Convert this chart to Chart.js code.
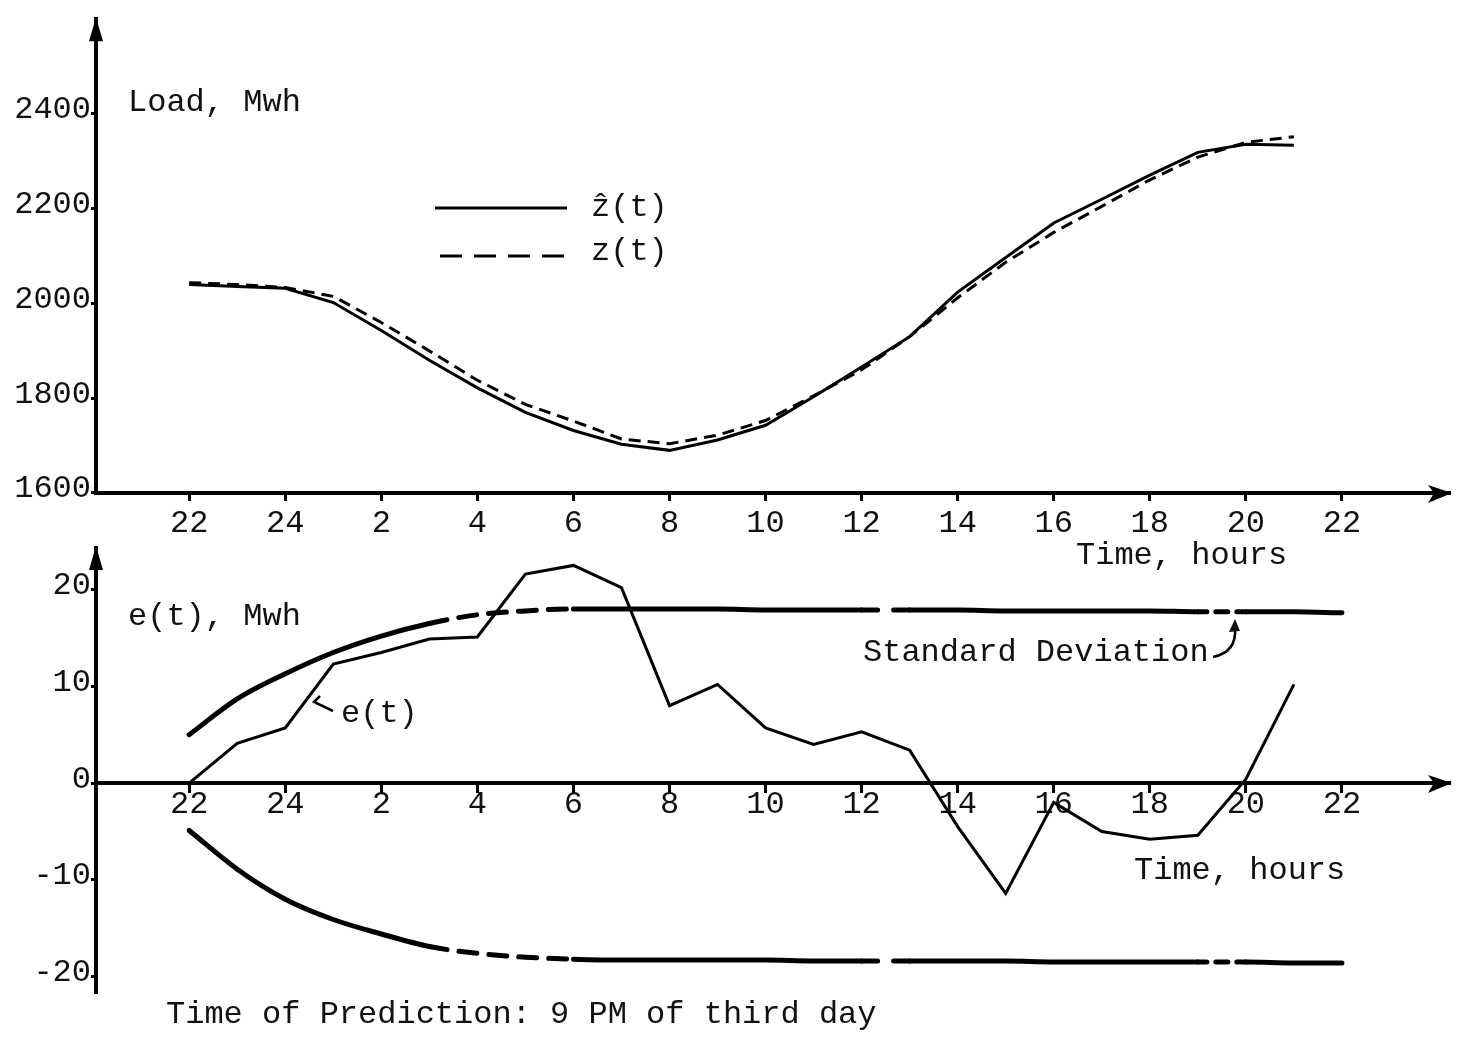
<!DOCTYPE html>
<html>
<head>
<meta charset="utf-8">
<script src="https://cdn.jsdelivr.net/npm/chart.js@4.4.1/dist/chart.umd.min.js"></script>
<style>
  body { margin: 0; background: #fff; }
  #wrap { position: relative; width: 1458px; height: 1037px; }
  canvas { position: absolute; left: 0; top: 0; }
</style>
</head>
<body>
<div id="wrap">
  <canvas id="loadChart" width="1458" height="1037"></canvas>
  <canvas id="errChart" width="1458" height="1037"></canvas>
</div>
<script>
// hours counted from 22:00 of the day before prediction
const hours = [0,1,2,3,4,5,6,7,8,9,10,11,12,13,14,15,16,17,18,19,20,21,22,23];
const sdHours = [0,1,2,3,4,5,6,7,8,9,10,11,12,13,14,15,16,17,18,19,20,21,22,23,24];
const tickHours = [0,2,4,6,8,10,12,14,16,18,20,22,24];
const tickLabels = ['22','24','2','4','6','8','10','12','14','16','18','20','22'];
const loadTicks = [1600,1800,2000,2200,2400];
const errTicks = [-20,-10,0,10,20];

// z^(t) forecast and z(t) actual load, Mwh
const loadForecast = [2040,2036,2032,2002,1943,1880,1822,1770,1732,1703,1690,1712,1743,1803,1866,1930,2024,2097,2170,2220,2271,2319,2336,2334];
const loadActual = [2044,2040,2034,2015,1960,1900,1838,1787,1752,1714,1704,1722,1753,1805,1860,1930,2012,2087,2150,2205,2261,2309,2340,2352];

// e(t) error and standard deviation band
const errValues = [0,4.1,5.7,12.3,13.5,14.9,15.1,21.6,22.5,20.2,8.0,10.2,5.7,4.0,5.3,3.4,-4.5,-11.4,-2.0,-5.0,-5.8,-5.4,0.4,10.2];
const sdUpper = [5.0,8.7,11.3,13.5,15.2,16.5,17.4,17.8,18.0,18.0,18.0,18.0,17.9,17.9,17.9,17.9,17.9,17.8,17.8,17.8,17.8,17.7,17.7,17.7,17.6];
const sdLower = [-4.9,-8.9,-12.0,-14.1,-15.6,-16.9,-17.6,-18.0,-18.2,-18.3,-18.3,-18.3,-18.3,-18.4,-18.4,-18.4,-18.4,-18.4,-18.5,-18.5,-18.5,-18.5,-18.5,-18.6,-18.6];

const FONT = "'Liberation Mono', 'Courier New', monospace";
const INK = '#111';

function pts(xs, ys) {
  return xs.map((x, i) => ({ x: x, y: ys[i] }));
}

// gappy hand-drawn look of the deviation curves
function sdDash(ctx) {
  const i = ctx.p0DataIndex;
  if (i >= 5 && i <= 7) return [18, 12];
  if (i === 14) return [16, 16];
  if (i === 21) return [9, 9, 12, 9];
  return undefined;
}

function xScale(pad, extra) {
  return Object.assign({
    type: 'linear',
    min: -1.94,
    max: 26.25,
    afterBuildTicks: s => { s.ticks = tickHours.map(v => ({ value: v })); },
    ticks: {
      autoSkip: false,
      maxRotation: 0,
      padding: pad,
      color: INK,
      font: { family: FONT, size: 32 },
      callback: v => tickLabels[tickHours.indexOf(v)]
    },
    grid: { drawOnChartArea: false, color: '#000', tickColor: '#000', tickWidth: 3, tickLength: 8 },
    border: { color: '#000', width: 4 }
  }, extra);
}

function yScale(min, max, list) {
  return {
    type: 'linear',
    min: min,
    max: max,
    afterBuildTicks: s => { s.ticks = list.map(v => ({ value: v })); },
    afterFit: s => { s.width = 96; },
    ticks: {
      color: INK,
      padding: 0,
      labelOffset: -4,
      font: { family: FONT, size: 32 },
      callback: v => String(v)
    },
    grid: { drawOnChartArea: false, color: '#000', tickColor: '#000', tickWidth: 3, tickLength: 5 },
    border: { color: '#000', width: 4 }
  };
}

function arrowHeads(ctx, area, axisY) {
  ctx.save();
  ctx.fillStyle = '#000';
  ctx.beginPath();
  ctx.moveTo(area.left, area.top - 2);
  ctx.lineTo(area.left - 7, area.top + 22);
  ctx.lineTo(area.left + 7, area.top + 22);
  ctx.closePath();
  ctx.fill();
  ctx.beginPath();
  ctx.moveTo(area.right + 2, axisY);
  ctx.lineTo(area.right - 22, axisY - 8);
  ctx.lineTo(area.right - 16, axisY);
  ctx.lineTo(area.right - 22, axisY + 10);
  ctx.closePath();
  ctx.fill();
  ctx.restore();
}

const loadDecor = {
  id: 'loadDecor',
  afterDraw(chart) {
    const ctx = chart.ctx;
    const area = chart.chartArea;
    arrowHeads(ctx, area, area.bottom);
    ctx.save();
    ctx.fillStyle = INK;
    ctx.font = '32px ' + FONT;
    ctx.textBaseline = 'middle';
    ctx.textAlign = 'left';
    ctx.fillText('Load, Mwh', 128, 103);
    ctx.fillText('\u1E91(t)', 591, 208);
    ctx.fillText('z(t)', 591, 252);
    ctx.fillText('Time, hours', 1076, 556);
    // legend samples
    ctx.strokeStyle = '#000';
    ctx.lineWidth = 3;
    ctx.beginPath();
    ctx.moveTo(435, 208);
    ctx.lineTo(567, 208);
    ctx.stroke();
    ctx.setLineDash([22, 12]);
    ctx.beginPath();
    ctx.moveTo(440, 256);
    ctx.lineTo(564, 256);
    ctx.stroke();
    ctx.restore();
  }
};

const errDecor = {
  id: 'errDecor',
  afterDraw(chart) {
    const ctx = chart.ctx;
    const area = chart.chartArea;
    arrowHeads(ctx, area, chart.scales.y.getPixelForValue(0));
    ctx.save();
    ctx.fillStyle = INK;
    ctx.font = '32px ' + FONT;
    ctx.textBaseline = 'middle';
    ctx.textAlign = 'left';
    ctx.fillText('e(t), Mwh', 128, 617);
    ctx.fillText('e(t)', 341, 714);
    ctx.fillText('Standard Deviation', 863, 653);
    ctx.fillText('Time, hours', 1134, 871);
    ctx.fillText('Time of Prediction: 9 PM of third day', 166, 1015);
    // pointer to e(t) curve
    ctx.strokeStyle = '#000';
    ctx.lineWidth = 2.5;
    ctx.beginPath();
    ctx.moveTo(333, 711);
    ctx.lineTo(314, 702);
    ctx.lineTo(320, 696);
    ctx.stroke();
    // hook to the deviation curve
    ctx.beginPath();
    ctx.moveTo(1213, 657);
    ctx.quadraticCurveTo(1237, 652, 1235, 628);
    ctx.stroke();
    ctx.beginPath();
    ctx.moveTo(1235, 619);
    ctx.lineTo(1229, 632);
    ctx.lineTo(1240, 631);
    ctx.closePath();
    ctx.fill();
    ctx.restore();
  }
};

const common = {
  responsive: false,
  animation: false,
  devicePixelRatio: 1,
  events: [],
  plugins: { legend: { display: false }, tooltip: { enabled: false } },
  elements: { point: { radius: 0 }, line: { tension: 0 } }
};

new Chart(document.getElementById('loadChart'), {
  type: 'line',
  data: {
    datasets: [
      { label: '\u1E91(t)', data: pts(hours, loadForecast), borderColor: '#000', borderWidth: 3 },
      { label: 'z(t)', data: pts(hours, loadActual), borderColor: '#000', borderWidth: 3, borderDash: [12, 7] }
    ]
  },
  options: Object.assign({}, common, {
    layout: { padding: { left: 0, right: 8, top: 10, bottom: 476 } },
    scales: {
      x: xScale(3, { afterFit: s => { s.height = 68; } }),
      y: yScale(1600, 2600, loadTicks)
    }
  }),
  plugins: [loadDecor]
});

new Chart(document.getElementById('errChart'), {
  type: 'line',
  data: {
    datasets: [
      { label: 'e(t)', data: pts(hours, errValues), borderColor: '#000', borderWidth: 3 },
      { label: 'SD+', data: pts(sdHours, sdUpper), borderColor: '#000', borderWidth: 5, borderCapStyle: 'round', cubicInterpolationMode: 'monotone', segment: { borderDash: sdDash } },
      { label: 'SD-', data: pts(sdHours, sdLower), borderColor: '#000', borderWidth: 5, borderCapStyle: 'round', cubicInterpolationMode: 'monotone', segment: { borderDash: sdDash } }
    ]
  },
  options: Object.assign({}, common, {
    layout: { padding: { left: 0, right: 8, top: 548, bottom: 44 } },
    scales: {
      x: xScale(-6, { position: { y: 0 } }),
      y: yScale(-21.7, 24.3, errTicks)
    }
  }),
  plugins: [errDecor]
});
</script>
</body>
</html>
